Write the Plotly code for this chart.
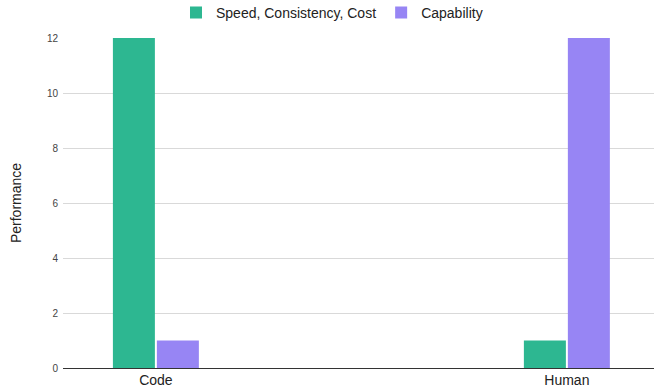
import plotly.graph_objects as go

categories = ["Code", "Human"]
speed_consistency_cost = [12, 1]
capability = [1, 12]
y_ticks = [0, 2, 4, 6, 8, 10, 12]

W, H = 654, 390
L, R, T, B = 63, 0, 38, 22

fig = go.Figure()
fig.add_trace(go.Bar(name="Speed, Consistency, Cost", x=categories, y=speed_consistency_cost,
                     marker=dict(color="#2db791", line=dict(width=0))))
fig.add_trace(go.Bar(name="Capability", x=categories, y=capability,
                     marker=dict(color="#9785f4", line=dict(width=0))))

fig.update_layout(
    width=W, height=H,
    margin=dict(l=L, r=R, t=T, b=B, autoexpand=False),
    paper_bgcolor="white", plot_bgcolor="white",
    barmode="group", bargap=0.786, bargroupgap=0.045,
    font=dict(family="Liberation Sans, Arial, sans-serif", color="#222"),
    legend=dict(orientation="h", x=0.1925 * 587 / 591, xanchor="left",
                yref="container", y=0.967, yanchor="middle",
                font=dict(size=14, color="#222"), itemwidth=30, tracegroupgap=0,
                bgcolor="rgba(0,0,0,0)"),
    showlegend=True,
)
fig.update_xaxes(type="category", range=[-0.226, 1.212], showgrid=False,
                 showline=False, ticks="", tickfont=dict(size=14, color="#222"),
                 ticklabelstandoff=2, automargin=False)
fig.update_yaxes(range=[0, 12], tickvals=y_ticks, showgrid=True, gridcolor="#d9d9d9",
                 gridwidth=1, zeroline=True, zerolinecolor="#333", zerolinewidth=1,
                 tickfont=dict(size=10, color="#444"), ticks="", ticklabelstandoff=4,
                 automargin=False,
                 title=dict(text="Performance", font=dict(size=14, color="#222"), standoff=21))

fig.write_html("out.html")
